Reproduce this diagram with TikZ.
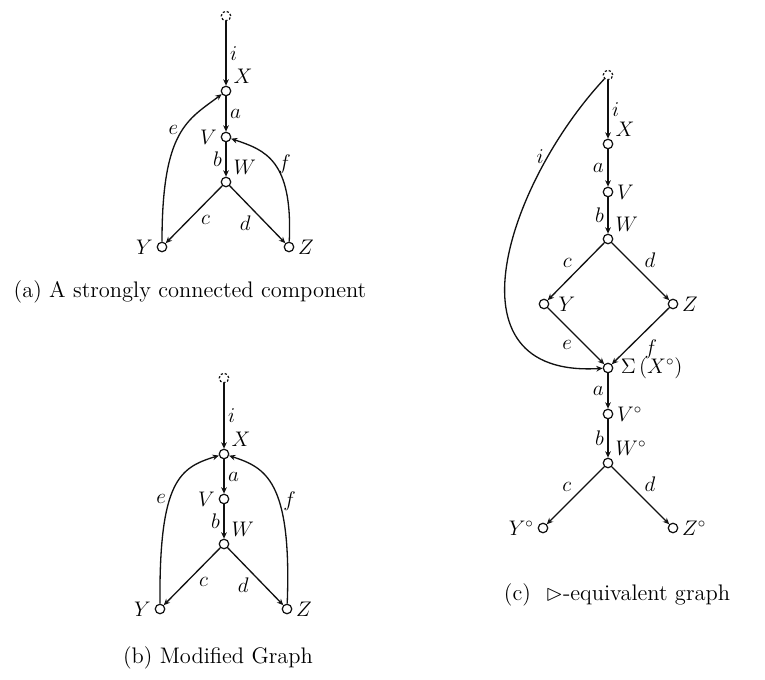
\documentclass[tikz,border=0pt]{standalone}
\usepackage{amssymb}
\usetikzlibrary{arrows.meta}
\definecolor{darkline}{HTML}{111111}
\tikzset{
  vertex/.style={circle, draw=darkline, line width=0.7pt, inner sep=0pt, minimum size=0.19cm},
  entry/.style={vertex, dash pattern=on 1.3pt off 1.1pt},
  flow/.style={-{Stealth[length=3.6pt, width=3.2pt]}, line width=0.75pt, draw=darkline},
  tag/.style={font=\fontsize{11.5}{13}\selectfont, inner sep=2pt},
  caption/.style={font=\fontsize{12.8}{15}\selectfont, align=center},
  every label/.style={font=\fontsize{11.5}{13}\selectfont, inner sep=2pt}
}

\begin{document}
\begin{tikzpicture}
\useasboundingbox (0,0) rectangle (15.3,13.6);

% (a) strongly connected component
\node[entry] (topa) at (4.52, 13.28) {};
\node[vertex, label=above right:$X$] (xa) at (4.52, 11.78) {};
\node[vertex, label=left:$V$] (va) at (4.52, 10.86) {};
\node[vertex, label=above right:$W$] (wa) at (4.52, 9.96) {};
\node[vertex, label=left:$Y$] (ya) at (3.24, 8.66) {};
\node[vertex, label=right:$Z$] (za) at (5.78, 8.66) {};
\node[caption] (capa) at (3.80, 7.76) {(a) A strongly connected component};

\draw[flow] (topa) -- node[tag, right] {$i$} (xa);
\draw[flow] (xa) -- node[tag, right] {$a$} (va);
\draw[flow] (va) -- node[tag, left] {$b$} (wa);
\draw[flow] (wa) -- node[tag, below right, pos=0.45] {$c$} (ya);
\draw[flow] (wa) -- node[tag, below left, pos=0.45] {$d$} (za);
\draw[flow] (ya) .. controls (3.24, 11.0) and (3.75, 11.2) .. node[tag, left, pos=0.55] {$e$} (xa);
\draw[flow] (za) .. controls (5.86, 10.4) and (5.3, 10.6) .. node[tag, right, pos=0.5] {$f$} (va);

% (b) modified graph
\node[entry] (topb) at (4.48, 6.04) {};
\node[vertex, label=above right:$X$] (xb) at (4.48, 4.52) {};
\node[vertex, label=left:$V$] (vb) at (4.48, 3.62) {};
\node[vertex, label=above right:$W$] (wb) at (4.48, 2.72) {};
\node[vertex, label=left:$Y$] (yb) at (3.20, 1.42) {};
\node[vertex, label=right:$Z$] (zb) at (5.74, 1.42) {};
\node[caption] (capb) at (4.36, 0.44) {(b) Modified Graph};

\draw[flow] (topb) -- node[tag, right] {$i$} (xb);
\draw[flow] (xb) -- node[tag, right] {$a$} (vb);
\draw[flow] (vb) -- node[tag, left] {$b$} (wb);
\draw[flow] (wb) -- node[tag, below right, pos=0.45] {$c$} (yb);
\draw[flow] (wb) -- node[tag, below left, pos=0.45] {$d$} (zb);
\draw[flow] (yb) .. controls (3.18, 4.0) and (3.6, 4.25) .. node[tag, left, pos=0.42] {$e$} (xb);
\draw[flow] (zb) .. controls (5.84, 4.0) and (5.3, 4.25) .. node[tag, right, pos=0.4] {$f$} (xb);

% (c) equivalent graph
\node[entry] (topc) at (12.16, 12.10) {};
\node[vertex, label=above right:$X$] (xc) at (12.16, 10.72) {};
\node[vertex, label=right:$V$] (vc) at (12.16, 9.76) {};
\node[vertex, label=above right:$W$] (wc) at (12.16, 8.82) {};
\node[vertex, label={[label distance=3pt]right:$Y$}] (yc) at (10.88, 7.52) {};
\node[vertex, label=right:$Z$] (zc) at (13.46, 7.52) {};
\node[vertex, label={[label distance=2pt]right:{$\Sigma\,(X^{\circ})$}}] (sc) at (12.16, 6.24) {};
\node[vertex, label=right:$V^{\circ}$] (voc) at (12.16, 5.32) {};
\node[vertex, label=above right:$W^{\circ}$] (woc) at (12.16, 4.34) {};
\node[vertex, label=left:$Y^{\circ}$] (yoc) at (10.86, 3.04) {};
\node[vertex, label=right:$Z^{\circ}$] (zoc) at (13.46, 3.04) {};
\node[caption] (capc) at (12.34, 1.70) {(c)\ \ $\rhd$-equivalent graph};

\draw[flow] (topc) -- node[tag, right] {$i$} (xc);
\draw[flow] (xc) -- node[tag, left] {$a$} (vc);
\draw[flow] (vc) -- node[tag, left] {$b$} (wc);
\draw[flow] (wc) -- node[tag, above left] {$c$} (yc);
\draw[flow] (wc) -- node[tag, above right] {$d$} (zc);
\draw[flow] (yc) -- node[tag, below left] {$e$} (sc);
\draw[flow] (zc) -- node[tag, below right] {$f$} (sc);
\draw[flow] (topc) .. controls (10.2, 10.0) and (8.8, 6.04) .. node[tag, left, pos=0.22] {$i$} (sc);
\draw[flow] (sc) -- node[tag, left] {$a$} (voc);
\draw[flow] (voc) -- node[tag, left] {$b$} (woc);
\draw[flow] (woc) -- node[tag, above left] {$c$} (yoc);
\draw[flow] (woc) -- node[tag, above right] {$d$} (zoc);

\end{tikzpicture}
\end{document}
